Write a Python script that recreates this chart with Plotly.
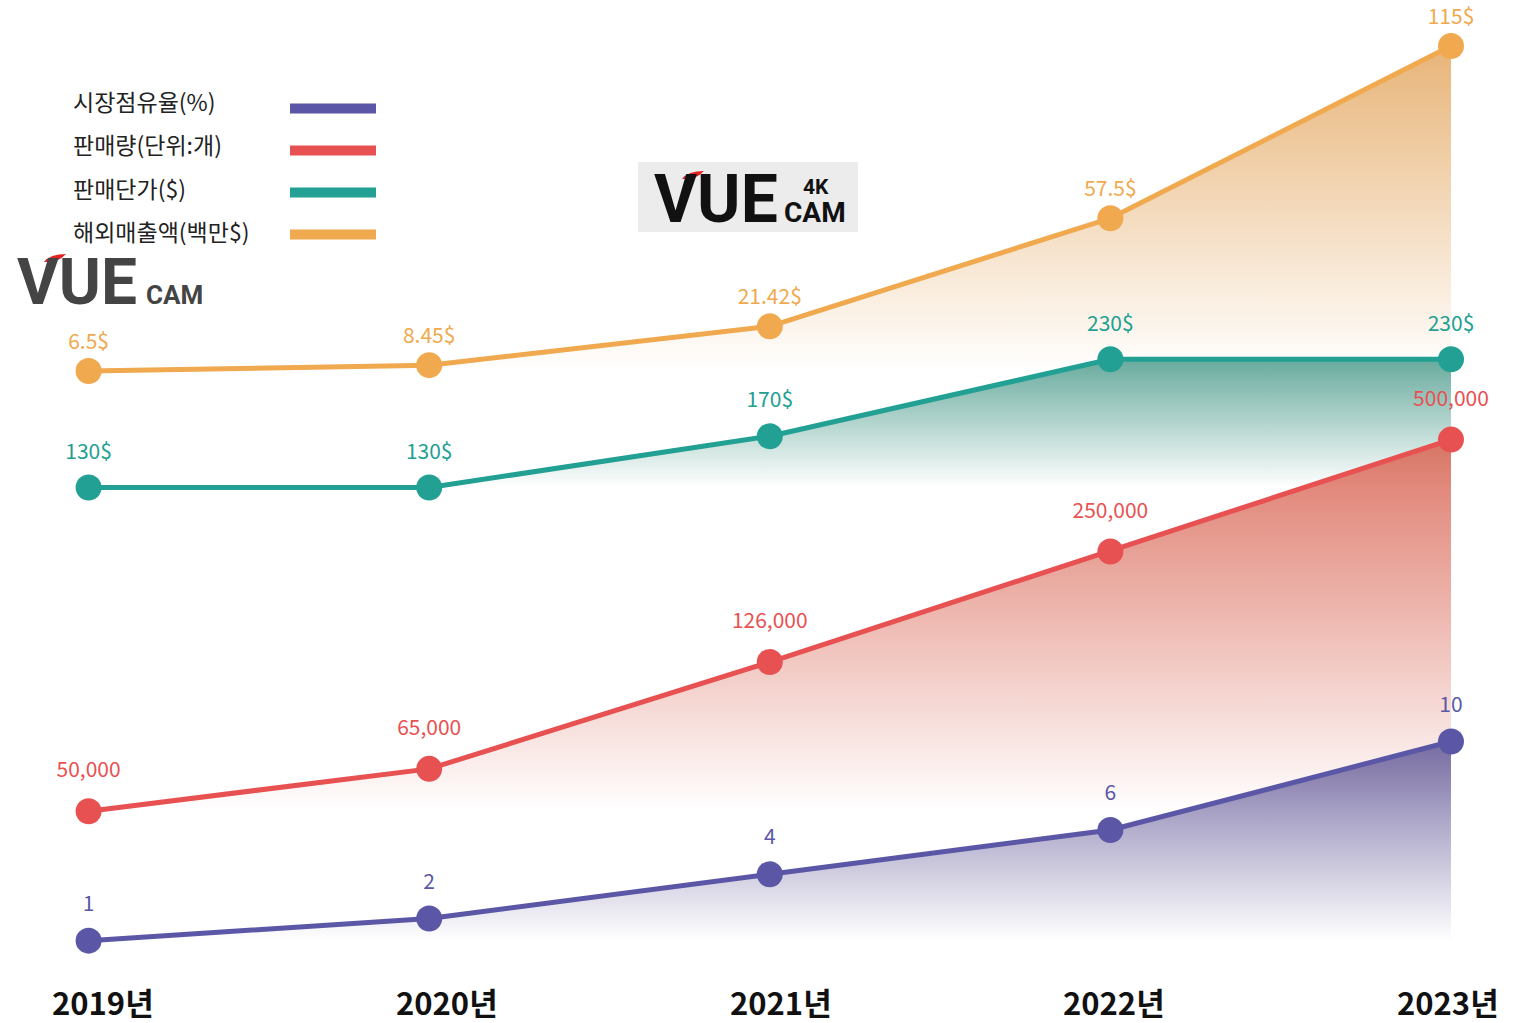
import plotly.graph_objects as go

# ---------------------------------------------------------------------------
# Data
# ---------------------------------------------------------------------------
years = [2019, 2020, 2021, 2022, 2023]
year_labels = ["2019년", "2020년", "2021년", "2022년", "2023년"]

series_names = ["시장점유율(%)", "판매량(단위:개)", "판매단가($)", "해외매출액(백만$)"]
market_share = [1, 2, 4, 6, 10]
sales_units = [50000, 65000, 126000, 250000, 500000]
unit_price = [130, 130, 170, 230, 230]
overseas_sales = [6.5, 8.45, 21.42, 57.5, 115]

# ---------------------------------------------------------------------------
# Styling
# ---------------------------------------------------------------------------
W, H = 1517, 1023
FONT = "Noto Sans CJK KR"
PURPLE = "#5B57A6"
RED = "#E85152"
TEAL = "#21A093"
ORANGE = "#F0A94E"

# slightly muted tones used at the top of each area gradient
FILL_TOP = {
    PURPLE: (103, 94, 155),
    RED: (218, 105, 88),
    TEAL: (88, 161, 147),
    ORANGE: (229, 172, 105),
}


def px(x):
    return x / W


def py(y):
    return 1 - y / H


# each series lives on its own hidden y axis (the infographic has no shared scale).
# later axes are painted on top, so the top-most series goes first.
series = [
    # values, colour, axis, text labels, label lift (invisible marker size)
    (overseas_sales, ORANGE, "y", [f"{v:g}$" for v in overseas_sales], 25),
    (unit_price, TEAL, "y2", [f"{v}$" for v in unit_price], 36),
    (sales_units, RED, "y3", [f"{v:,}" for v in sales_units], 44),
    (market_share, PURPLE, "y4", [f"{v}" for v in market_share], 38),
]

fig = go.Figure()
for values, colour, axis, labels, lift in series:
    r, g, b = FILL_TOP[colour]
    fig.add_trace(
        go.Scatter(
            x=years,
            y=values,
            yaxis=axis,
            mode="lines+markers",
            line=dict(color=colour, width=5),
            marker=dict(color=colour, size=26),
            fill="tozeroy",
            fillgradient=dict(
                type="vertical",
                start=min(values),
                stop=max(values),
                colorscale=[[0, f"rgba({r},{g},{b},0)"], [1, f"rgba({r},{g},{b},0.9)"]],
            ),
            cliponaxis=False,
            showlegend=False,
            hoverinfo="skip",
        )
    )
    # value labels, lifted a little further than the marker would push them
    fig.add_trace(
        go.Scatter(
            x=years,
            y=values,
            yaxis=axis,
            mode="markers+text",
            marker=dict(color="rgba(0,0,0,0)", size=lift),
            text=labels,
            textposition="top center",
            textfont=dict(family=FONT, size=21, color=colour),
            cliponaxis=False,
            showlegend=False,
            hoverinfo="skip",
        )
    )

hidden = dict(visible=False, showgrid=False, zeroline=False, fixedrange=True)
fig.update_layout(
    width=W,
    height=H,
    margin=dict(l=0, r=0, t=0, b=0),
    paper_bgcolor="white",
    plot_bgcolor="white",
    xaxis=dict(hidden, range=[2018.7399, 2023.1938]),
    yaxis=dict(hidden, range=[-211.2, 130.38]),
    yaxis2=dict(hidden, range=[-287.8, 510.3], overlaying="y"),
    yaxis3=dict(hidden, type="log", range=[4.129, 6.882], overlaying="y"),
    yaxis4=dict(hidden, range=[-2.72, 43.51], overlaying="y"),
)

# year labels along the bottom
for yr, lab, shift in zip(years, year_labels, [14, 18, 11, 4, -3]):
    fig.add_annotation(
        x=yr, xref="x", y=py(1001), yref="paper", text=f"<b>{lab}</b>",
        showarrow=False, xshift=shift, yanchor="middle",
        font=dict(family=FONT, size=31, color="#111111"),
    )

# legend: name on the left, colour swatch on the right
legend_colours = [PURPLE, RED, TEAL, ORANGE]
for i, (name, colour) in enumerate(zip(series_names, legend_colours)):
    ty = 101 + i * 43.3
    fig.add_annotation(
        x=px(71), xref="paper", y=py(ty), yref="paper", text=name,
        showarrow=False, xanchor="left", yanchor="middle",
        font=dict(family=FONT, size=23, color="#222222"),
    )
    sy = 108.5 + i * 42
    fig.add_shape(
        type="rect", xref="paper", yref="paper",
        x0=px(290), x1=px(376), y0=py(sy - 5), y1=py(sy + 5),
        fillcolor=colour, line_width=0,
    )

# logos, redrawn as text
fig.add_shape(
    type="rect", xref="paper", yref="paper",
    x0=px(638), x1=px(858), y0=py(232), y1=py(162),
    fillcolor="#ECECEC", line_width=0, layer="below",
)
fig.add_annotation(
    x=px(652), xref="paper", y=py(199), yref="paper", text="<b>VUE</b>",
    showarrow=False, xanchor="left", yanchor="middle",
    font=dict(family="Roboto", size=66, color="#111111"),
)
fig.add_annotation(
    x=px(816), xref="paper", y=py(200), yref="paper", text="<b>4K</b>",
    showarrow=False, xanchor="center", yanchor="bottom", borderpad=0,
    font=dict(family="Roboto", size=21, color="#111111"),
)
fig.add_annotation(
    x=px(815), xref="paper", y=py(195), yref="paper", text="<b>CAM</b>",
    showarrow=False, xanchor="center", yanchor="top", borderpad=0,
    font=dict(family="Roboto", size=28, color="#111111"),
)
fig.add_annotation(
    x=px(15), xref="paper", y=py(282), yref="paper", text="<b>VUE</b>",
    showarrow=False, xanchor="left", yanchor="middle",
    font=dict(family="Roboto", size=64, color="#444444"),
)
fig.add_annotation(
    x=px(174), xref="paper", y=py(295), yref="paper", text="<b>CAM</b>",
    showarrow=False, xanchor="center", yanchor="middle",
    font=dict(family="Roboto", size=26, color="#444444"),
)
for ax, ay in [(44, 262), (682, 179)]:
    fig.add_shape(
        type="path", xref="paper", yref="paper",
        path=(f"M {px(ax)},{py(ay)} Q {px(ax + 6)},{py(ay - 8)} {px(ax + 22)},{py(ay - 8)} "
              f"Q {px(ax + 14)},{py(ay + 1)} {px(ax)},{py(ay)} Z"),
        fillcolor="#E02424", line_width=0,
    )

# drop the default page margin so the figure sits at the window's corner
fig.write_html(
    "out.html",
    config={"displayModeBar": False},
    post_script="document.body.style.margin = '0';",
)
